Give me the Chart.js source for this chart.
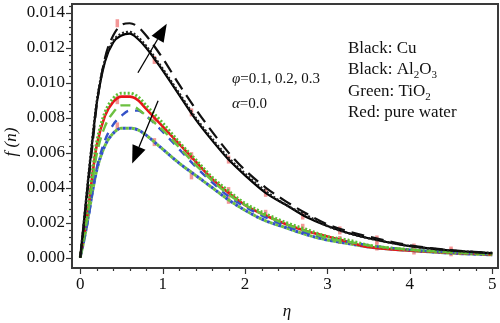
<!DOCTYPE html>
<html>
<head>
<meta charset="utf-8">
<script src="https://cdn.jsdelivr.net/npm/chart.js@4.4.0/dist/chart.umd.min.js"></script>
<style>
  html, body { margin: 0; padding: 0; background: #fff; }
  #wrap { width: 500px; height: 323px; }
</style>
</head>
<body>
<div id="wrap"><canvas id="fChart" width="500" height="323"></canvas></div>
<script>
// eta grid used by every curve
const eta = [0, 0.05, 0.1, 0.15, 0.2, 0.3, 0.4, 0.5, 0.6, 0.7, 0.8, 1.0, 1.2, 1.4, 1.6, 1.8, 2.0, 2.25, 2.5, 2.75, 3.0, 3.25, 3.5, 4.0, 4.5, 5.0];

// upper group (black)
const blackSolid  = [0, 0.0023, 0.0046, 0.0068, 0.0088, 0.0112, 0.0123, 0.0127, 0.0128, 0.0125, 0.0120, 0.0107, 0.0093, 0.0079, 0.0067, 0.0056, 0.0047, 0.0037, 0.0030, 0.0023, 0.0018, 0.0014, 0.0011, 0.00065, 0.0004, 0.00025];
const blackDotted = [0, 0.0023, 0.0047, 0.0069, 0.0089, 0.0113, 0.0124, 0.0128, 0.0129, 0.0126, 0.0121, 0.0108, 0.0094, 0.0080, 0.0068, 0.0057, 0.0048, 0.0038, 0.0030, 0.0024, 0.0018, 0.0014, 0.0011, 0.00066, 0.0004, 0.00025];
const blackDashed = [0, 0.0021, 0.0043, 0.0065, 0.0087, 0.0114, 0.0127, 0.0133, 0.0134, 0.0132, 0.0127, 0.0114, 0.0099, 0.0085, 0.0072, 0.0060, 0.0050, 0.0040, 0.0032, 0.0025, 0.0019, 0.0015, 0.0012, 0.0007, 0.00042, 0.00026];

// middle group
const greenDotted = [0, 0.0015, 0.0031, 0.0050, 0.0066, 0.0083, 0.0091, 0.0094, 0.0094, 0.0092, 0.0087, 0.0077, 0.0066, 0.0056, 0.0046, 0.0038, 0.0031, 0.0025, 0.0020, 0.0016, 0.0012, 0.0010, 0.0007, 0.00045, 0.0003, 0.0002];
const redSolid    = [0, 0.0014, 0.0029, 0.0048, 0.0064, 0.0081, 0.0089, 0.0092, 0.0092, 0.0090, 0.0085, 0.0075, 0.0065, 0.0055, 0.0045, 0.0037, 0.0030, 0.0024, 0.0019, 0.0015, 0.0012, 0.0009, 0.0006, 0.0004, 0.00028, 0.00018];
const greenDashed = [0, 0.0013, 0.0027, 0.0044, 0.0059, 0.0075, 0.0083, 0.0087, 0.0087, 0.0085, 0.0081, 0.0073, 0.0063, 0.0053, 0.0044, 0.0036, 0.0030, 0.0024, 0.0019, 0.0015, 0.0011, 0.0009, 0.0007, 0.00045, 0.0003, 0.0002];
const blueDashed  = [0, 0.0011, 0.0023, 0.0038, 0.0051, 0.0067, 0.0076, 0.0081, 0.0084, 0.0084, 0.0081, 0.0072, 0.0062, 0.0052, 0.0043, 0.0035, 0.0029, 0.0023, 0.0018, 0.0014, 0.0011, 0.0009, 0.0007, 0.00045, 0.0003, 0.0002];

// lower group (green / blue dotted)
const lowDotted   = [0, 0.0011, 0.0024, 0.0038, 0.0050, 0.0064, 0.0071, 0.0074, 0.0074, 0.0073, 0.0070, 0.0062, 0.0054, 0.0047, 0.0040, 0.0033, 0.0027, 0.0021, 0.0017, 0.0013, 0.0010, 0.0008, 0.0006, 0.0004, 0.00025, 0.00015];

// pink markers
const markEta   = [0.45, 0.9, 1.35, 1.8, 2.25, 2.7, 3.15, 3.6, 4.05, 4.5];
const markUpper = [0.0134, 0.0113, 0.0083, 0.0056, 0.0037, 0.0024, 0.00155, 0.00103, 0.00057, 0.0004];
const markMid   = [0.0090, 0.0079, 0.0058, 0.0038, 0.0025, 0.0017, 0.0010, 0.00063, 0.0004, 0.0003];
const markLow   = [0.0075, 0.0066, 0.0047, 0.0033];

// tick values
const yMajor = [0, 0.002, 0.004, 0.006, 0.008, 0.010, 0.012, 0.014];
const xMajor = [0, 1, 2, 3, 4, 5];

// arrows [etaFrom, fFrom, etaTo, fTo]
const arrowUp   = [0.70, 0.01057, 1.05, 0.01337];
const arrowDown = [0.945, 0.00897, 0.63, 0.00537];

const legendLines = [
  [["Black: Cu", 0]],
  [["Black: Al", 0], ["2", 1], ["O", 0], ["3", 1]],
  [["Green: TiO", 0], ["2", 1]],
  [["Red: pure water", 0]]
];

const serif = "'Liberation Serif', 'DejaVu Serif', serif";

function pts(xs, ys) { return ys.map((v, i) => ({ x: xs[i], y: v })); }

function curve(label, ys, color, width, dash, offset) {
  return {
    label, data: pts(eta, ys), borderColor: color, borderWidth: width,
    borderDash: dash || [], borderDashOffset: offset || 0,
    pointRadius: 0, fill: false, cubicInterpolationMode: 'monotone'
  };
}
function marks(label, ys) {
  return {
    label, data: pts(markEta, ys), showLine: false,
    pointStyle: 'line', rotation: 90, pointRadius: 4,
    borderColor: 'rgba(240,125,125,0.8)', pointBorderWidth: 3.5, borderWidth: 3.5
  };
}

const decor = {
  id: 'decor',
  afterDraw(chart) {
    const { ctx, chartArea: a, scales: { x, y } } = chart;
    ctx.save();
    // ticks
    ctx.strokeStyle = '#333';
    ctx.lineWidth = 1.2;
    for (let v = 0; v <= 0.0144; v += 0.0004) {
      const py = Math.round(y.getPixelForValue(v)) + 0.5;
      const major = Math.abs(v / 0.002 - Math.round(v / 0.002)) < 1e-6;
      ctx.beginPath(); ctx.moveTo(a.left, py); ctx.lineTo(a.left - (major ? 6 : 3), py); ctx.stroke();
    }
    for (let v = 0; v <= 5.01; v += 0.2) {
      const px = Math.round(x.getPixelForValue(v)) + 0.5;
      const major = Math.abs(v - Math.round(v)) < 1e-6;
      ctx.beginPath(); ctx.moveTo(px, a.bottom); ctx.lineTo(px, a.bottom + (major ? 6 : 3)); ctx.stroke();
    }
    // frame
    ctx.strokeStyle = '#3a3a3a';
    ctx.lineWidth = 2;
    ctx.strokeRect(a.left, a.top, a.right - a.left, a.bottom - a.top);

    // arrows
    ctx.fillStyle = '#000'; ctx.strokeStyle = '#000'; ctx.lineWidth = 1.3;
    [arrowUp, arrowDown].forEach(ar => {
      const x0 = x.getPixelForValue(ar[0]), y0 = y.getPixelForValue(ar[1]);
      const x1 = x.getPixelForValue(ar[2]), y1 = y.getPixelForValue(ar[3]);
      const ang = Math.atan2(y1 - y0, x1 - x0);
      const hl = 18, hw = 7;
      const bx = x1 - hl * Math.cos(ang), by = y1 - hl * Math.sin(ang);
      ctx.beginPath(); ctx.moveTo(x0, y0); ctx.lineTo(bx, by); ctx.stroke();
      ctx.beginPath();
      ctx.moveTo(x1, y1);
      ctx.lineTo(bx + hw * Math.sin(ang), by - hw * Math.cos(ang));
      ctx.lineTo(bx - hw * Math.sin(ang), by + hw * Math.cos(ang));
      ctx.closePath(); ctx.fill();
    });

    // parameter text
    ctx.fillStyle = '#111';
    ctx.textBaseline = 'alphabetic';
    ctx.textAlign = 'left';
    let tx = 232;
    ctx.font = 'italic 15px ' + serif;
    ctx.fillText('\u03c6', tx, 83);
    tx += ctx.measureText('\u03c6').width;
    ctx.font = '15px ' + serif;
    ctx.fillText('=0.1, 0.2, 0.3', tx, 83);
    tx = 232;
    ctx.font = 'italic 15px ' + serif;
    ctx.fillText('\u03b1', tx, 108);
    tx += ctx.measureText('\u03b1').width;
    ctx.font = '15px ' + serif;
    ctx.fillText('=0.0', tx, 108);

    // legend text with subscripts
    legendLines.forEach((parts, i) => {
      let lx = 348;
      const ly = 53 + i * 21.3;
      parts.forEach(([t, sub]) => {
        ctx.font = (sub ? '11px ' : '17px ') + serif;
        ctx.fillText(t, lx, ly + (sub ? 4 : 0));
        lx += ctx.measureText(t).width;
      });
    });

    // axis titles
    ctx.font = 'italic 17px ' + serif;
    ctx.textAlign = 'center';
    ctx.fillText('\u03b7', (a.left + a.right) / 2 + 2, 316);
    ctx.translate(16, 142);
    ctx.rotate(-Math.PI / 2);
    ctx.fillText('f (n)', 0, 0);
    ctx.restore();
  }
};

function noPad(s) { s.paddingTop = 0; s.paddingBottom = 0; s.paddingLeft = 0; s.paddingRight = 0; }

const ctx = document.getElementById('fChart').getContext('2d');
new Chart(ctx, {
  type: 'line',
  data: {
    datasets: [
      curve('Cu dashed', blackDashed, '#111', 2.2, [13, 7]),
      curve('Cu dotted', blackDotted, '#222', 2.4, [2, 2]),
      curve('Cu', blackSolid, '#000', 2.2),
      curve('green dotted', greenDotted, '#5cbf35', 3, [2, 2]),
      curve('green dashed', greenDashed, '#6cc040', 2.4, [10, 6]),
      curve('blue dashed', blueDashed, '#3552c8', 2.4, [8, 7]),
      curve('pure water', redSolid, '#e8141a', 2.6),
      curve('low green', lowDotted, '#6cc040', 3, [3, 3]),
      curve('low blue', lowDotted, '#3552c8', 3, [3, 3], 3),
      marks('marks upper', markUpper),
      marks('marks mid', markMid),
      marks('marks low', markLow)
    ]
  },
  options: {
    responsive: false,
    animation: false,
    layout: { autoPadding: false, padding: { top: 4, right: 2, left: 0, bottom: 0 } },
    plugins: { legend: { display: false }, tooltip: { enabled: false } },
    scales: {
      x: {
        type: 'linear', min: -0.1, max: 5.07,
        afterBuildTicks: s => { s.ticks = xMajor.map(v => ({ value: v })); },
        afterFit: s => { s.height = 55; noPad(s); },
        grid: { display: false, drawTicks: false },
        border: { display: false },
        ticks: { color: '#111', padding: 6, font: { family: serif, size: 17 }, maxRotation: 0 }
      },
      y: {
        type: 'linear', min: -0.0006, max: 0.0145,
        afterBuildTicks: s => { s.ticks = yMajor.map(v => ({ value: v })); },
        afterFit: s => { s.width = 72; noPad(s); },
        grid: { display: false, drawTicks: false },
        border: { display: false },
        ticks: { color: '#111', padding: 7, font: { family: serif, size: 17 },
          callback: v => v.toFixed(3) }
      }
    }
  },
  plugins: [decor]
});
</script>
</body>
</html>
